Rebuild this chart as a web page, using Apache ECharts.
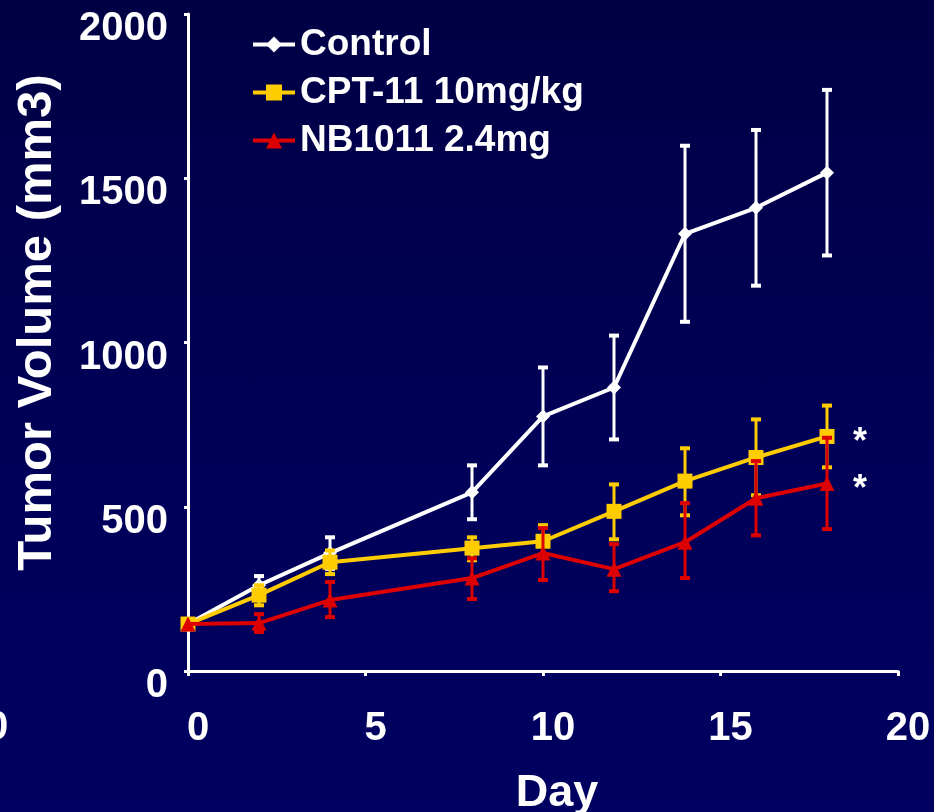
<!DOCTYPE html>
<html>
<head>
<meta charset="utf-8">
<script src="https://cdn.jsdelivr.net/npm/echarts@6/dist/echarts.min.js"></script>
<style>
html,body{margin:0;padding:0;width:934px;height:812px;overflow:hidden;
background:linear-gradient(to bottom,#000044 0%,#00005a 60%,#000060 100%);}
#chart{width:934px;height:812px;}
</style>
</head>
<body>
<div id="chart"></div>
<script>
const days = [0, 2, 4, 8, 10, 12, 14, 16, 18];
const seriesNames = ['Control', 'CPT-11 10mg/kg', 'NB1011 2.4mg'];
const controlMean = [143, 261, 359, 544, 775, 863, 1331, 1410, 1517];
const controlHi   = [143, 289, 407, 626, 924, 1021, 1599, 1647, 1769];
const controlLo   = [143, 233, 311, 462, 626, 705, 1063, 1173, 1265];
const cptMean = [143, 231, 331, 374, 395, 486, 578, 650, 714];
const cptHi   = [143, 261, 367, 407, 444, 568, 678, 766, 808];
const cptLo   = [143, 200, 295, 337, 346, 401, 474, 535, 620];
const nbMean = [143, 146, 216, 283, 359, 310, 392, 526, 571];
const nbHi   = [143, 173, 271, 343, 435, 386, 511, 639, 710];
const nbLo   = [143, 119, 164, 219, 277, 243, 283, 413, 432];
const xTicks = [0, 5, 10, 15, 20];
const yTicks = [0, 500, 1000, 1500, 2000];
const sigMark = '*';

const FONT = '"Liberation Sans", Arial, sans-serif';
const colors = ['#ffffff', '#ffcc00', '#dd0000'];
const symbols = ['diamond', 'rect', 'triangle'];
const symSizes = [14, 15, 15];

function pairs(m){ return days.map((d,i)=>[d, m[i]]); }
function errData(hi, lo){ return days.map((d,i)=>[d, lo[i], hi[i]]); }

function errSeries(name, hi, lo, color, z){
  return {
    type: 'custom', name: name + ' error', z: z, silent: true,
    data: errData(hi, lo),
    encode: {x: 0, y: [1, 2]},
    renderItem: function(params, api){
      const x = api.value(0), lo = api.value(1), hi = api.value(2);
      if (hi === lo) return null;
      const pLo = api.coord([x, lo]), pHi = api.coord([x, hi]);
      const w = 5;
      const st = {stroke: color, lineWidth: 3};
      const cap = {stroke: color, lineWidth: 4};
      return {type: 'group', children: [
        {type:'line', shape:{x1:pLo[0], y1:pLo[1], x2:pHi[0], y2:pHi[1]}, style: st},
        {type:'line', shape:{x1:pLo[0]-w, y1:pLo[1], x2:pLo[0]+w, y2:pLo[1]}, style: cap},
        {type:'line', shape:{x1:pHi[0]-w, y1:pHi[1], x2:pHi[0]+w, y2:pHi[1]}, style: cap}
      ]};
    }
  };
}

const means = [controlMean, cptMean, nbMean];
const his = [controlHi, cptHi, nbHi];
const los = [controlLo, cptLo, nbLo];

const series = [];
for (let k = 0; k < 3; k++) {
  series.push(errSeries(seriesNames[k], his[k], los[k], colors[k], 2 + k*2));
}
for (let k = 0; k < 3; k++) {
  series.push({
    type: 'line', name: seriesNames[k], data: pairs(means[k]),
    z: 3 + k*2,
    symbol: symbols[k], symbolSize: symSizes[k],
    lineStyle: {color: colors[k], width: 4},
    itemStyle: {color: colors[k]},
    emphasis: {disabled: true},
    animation: false
  });
}
// significance asterisks next to the last points of the treated groups
series.push({
  type: 'scatter', name: 'sig', silent: true, z: 10,
  data: [1, 2].map(k => [days[days.length-1], means[k][means[k].length-1]]),
  symbolSize: 1, itemStyle: {color: '#000058', opacity: 0},
  label: {show: true, position: 'inside', formatter: sigMark, color: '#ffffff', fontSize: 36,
          fontWeight: 'bold', fontFamily: FONT, offset: [33, 7],
          textBorderWidth: 0, textBorderColor: 'transparent', opacity: 1}
});

const chart = echarts.init(document.getElementById('chart'), null, {renderer: 'canvas'});
chart.setOption({
  backgroundColor: 'transparent',
  animation: false,
  color: colors,
  grid: {left: 188, right: 36, top: 14, bottom: 141, containLabel: false, outerBoundsMode: 'none'},
  legend: {
    data: seriesNames,
    orient: 'vertical', left: 246, top: 21,
    itemWidth: 42, itemHeight: 20, itemGap: 11,
    lineStyle: {width: 4},
    textStyle: {color: '#ffffff', fontSize: 37, fontWeight: 'bold', fontFamily: FONT, lineHeight: 37},
    selectedMode: false
  },
  xAxis: {
    type: 'value', min: 0, max: 20, interval: 5,
    name: 'Day', nameLocation: 'middle', nameGap: 100,
    nameTextStyle: {color: '#ffffff', fontSize: 45, fontWeight: 'bold', fontFamily: FONT, padding: [0, 0, 0, 28]},
    axisLine: {show: true, lineStyle: {color: '#ffffff', width: 3}},
    axisTick: {show: true, length: 5, lineStyle: {color: '#ffffff', width: 3}},
    splitLine: {show: false},
    axisLabel: {color: '#ffffff', fontSize: 40, fontWeight: 'bold', fontFamily: FONT, margin: 38,
                padding: [0, 0, 0, 20],
                formatter: v => xTicks.includes(v) ? String(v) : ''}
  },
  yAxis: {
    type: 'value', min: 0, max: 2000, interval: 500,
    name: 'Tumor Volume (mm3)', nameLocation: 'middle', nameGap: 126, nameRotate: 90,
    nameTextStyle: {color: '#ffffff', fontSize: 49, fontWeight: 'bold', fontFamily: FONT, padding: [0, 0, 0, 40]},
    axisLine: {show: true, lineStyle: {color: '#ffffff', width: 3}},
    axisTick: {show: true, length: 4, lineStyle: {color: '#ffffff', width: 3}},
    splitLine: {show: false},
    axisLabel: {color: '#ffffff', fontSize: 40, fontWeight: 'bold', fontFamily: FONT, margin: 20,
                verticalAlign: 'top', lineHeight: 30,
                formatter: v => yTicks.includes(v) ? String(v) : ''}
  },
  graphic: [{
    type: 'text', left: -14, top: 708, silent: true,
    style: {text: '0', fill: '#ffffff', fontSize: 40, fontWeight: 'bold', fontFamily: FONT}
  }],
  series: series
});
</script>
</body>
</html>
